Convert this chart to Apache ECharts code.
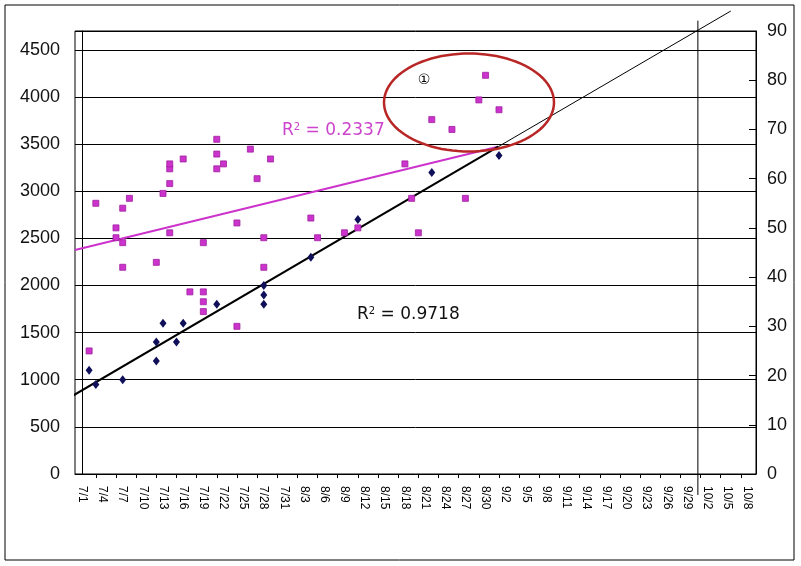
<!DOCTYPE html>
<html>
<head>
<meta charset="utf-8">
<script src="https://cdn.jsdelivr.net/npm/echarts@6/dist/echarts.min.js"></script>
<style>
html,body{margin:0;padding:0;background:#fff;}
#chart{width:801px;height:566px;}
</style>
</head>
<body>
<div id="chart"></div>
<script>
// ---- data ----
const xTickLabels = ['7/1','7/4','7/7','7/10','7/13','7/16','7/19','7/22','7/25','7/28','7/31',
  '8/3','8/6','8/9','8/12','8/15','8/18','8/21','8/24','8/27','8/30',
  '9/2','9/5','9/8','9/11','9/14','9/17','9/20','9/23','9/26','9/29',
  '10/2','10/5','10/8'];

const navyDates  = ['7/2','7/3','7/7','7/12','7/12','7/13','7/15','7/16','7/21','7/28','7/28','7/28','8/4','8/11','8/22','9/1'];
const navyValues = [1100,950,1000,1200,1400,1600,1400,1600,1800,2000,1900,1800,2300,2700,3200,3380];

const pinkDates  = ['7/2','7/3','7/6','7/6','7/7','7/7','7/7','7/8','7/12','7/13','7/14','7/14','7/14','7/14','7/16','7/17',
  '7/19','7/19','7/19','7/19','7/21','7/21','7/21','7/22','7/24','7/24','7/26','7/27','7/28','7/28','7/29',
  '8/4','8/5','8/9','8/11','8/18','8/19','8/20','8/22','8/25','8/27','8/29','8/30','9/1'];
const pinkValues = [25,55,50,48,54,47,42,56,43,57,59,62,63,49,64,37,
  37,35,33,47,68,65,62,63,51,30,66,60,48,42,64,
  52,48,49,50,63,56,49,72,70,56,76,81,74];

// trend / guide lines: x in days after 7/1
const blackTrendX = [-1.85, 61.9];  const blackTrendY = [813, 3473];
const blackExtX   = [61.9, 96.5];   const blackExtY   = [3473, 4912];
const pinkTrendX  = [-1.1, 61.85];  const pinkTrendY  = [45.5, 66.5];
const guideX      = [91.6, 91.6];   const guideY      = [-223, 4810];

const leftTicks  = [0,500,1000,1500,2000,2500,3000,3500,4000,4500];
const rightTicks = [0,10,20,30,40,50,60,70,80,90];

// ---- helpers ----
const BASE = Date.UTC(2001,6,1);
function dayIndex(s){const p=s.split('/').map(Number);return Math.round((Date.UTC(2001,p[0]-1,p[1])-BASE)/86400000);}
function dayLabel(i){const d=new Date(BASE+Math.round(i)*86400000);return (d.getUTCMonth()+1)+'/'+d.getUTCDate();}
function pairs(xs,ys){return xs.map((x,i)=>[x,ys[i]]);}

const labelIdx = xTickLabels.map(dayIndex);
const tickIdx = labelIdx.map(i=>i+2);

const FONT = 'Liberation Sans';
const chart = echarts.init(document.getElementById('chart'), null, {renderer:'canvas'});

// ellipse annotation polygon
const ell = [];
for(let k=0;k<96;k++){const t=k/96*2*Math.PI;ell.push([469+85*Math.cos(t),102.5+49*Math.sin(t)]);}

chart.setOption({
  animation:false,
  backgroundColor:'#fff',
  grid:{left:75,right:45,top:31,bottom:92,show:true,borderColor:'#000',borderWidth:1,backgroundColor:'transparent'},
  xAxis:{
    type:'value', min:-1.1, max:100.25,
    splitLine:{show:false},
    axisLine:{show:true,lineStyle:{color:'#000',width:1}},
    axisTick:{show:true,customValues:tickIdx,length:4,lineStyle:{color:'#000'}},
    axisLabel:{customValues:labelIdx,rotate:-90,margin:12,fontSize:12,fontFamily:FONT,color:'#000',
      formatter:v=>dayLabel(v)}
  },
  yAxis:[
    {type:'value',min:0,max:4700,interval:500,position:'left',
     axisLine:{show:true,lineStyle:{color:'#000'}},
     axisTick:{show:false},
     splitLine:{show:true,lineStyle:{color:'#000',width:1}},
     axisLabel:{customValues:leftTicks,fontSize:18,fontFamily:FONT,color:'#111',margin:15,
       formatter:v=>String(v)}},
    {type:'value',min:0,max:90,interval:10,position:'right',
     axisLine:{show:true,lineStyle:{color:'#000'}},
     axisTick:{show:true,inside:true,length:7,lineStyle:{color:'#000'}},
     splitLine:{show:false},
     axisLabel:{customValues:rightTicks,fontSize:18,fontFamily:FONT,color:'#111',margin:11,
       formatter:v=>String(v)}}
  ],
  series:[
    {type:'line',yAxisIndex:0,data:pairs(guideX,guideY),showSymbol:false,clip:false,
     lineStyle:{color:'#000',width:1},z:3,silent:true},
    {type:'line',yAxisIndex:0,data:pairs(blackExtX,blackExtY),showSymbol:false,clip:false,
     lineStyle:{color:'#000',width:1},z:3,silent:true},
    {type:'line',yAxisIndex:1,data:pairs(pinkTrendX,pinkTrendY),showSymbol:false,clip:false,
     lineStyle:{color:'#cc33cc',width:2},z:3,silent:true},
    {type:'line',yAxisIndex:0,data:pairs(blackTrendX,blackTrendY),showSymbol:false,clip:false,
     lineStyle:{color:'#000',width:2},z:4,silent:true},
    {type:'scatter',yAxisIndex:1,data:pairs(pinkDates.map(dayIndex),pinkValues),
     symbol:'rect',symbolSize:6,itemStyle:{color:'#cc33cc',borderColor:'#a020a0',borderWidth:0.8,opacity:1},z:5},
    {type:'scatter',yAxisIndex:0,data:pairs(navyDates.map(dayIndex),navyValues),
     symbol:'diamond',symbolSize:[7,9],itemStyle:{color:'#10105a',opacity:1},z:6}
  ],
  graphic:[
    {type:'rect',shape:{x:5,y:5,width:789,height:555},style:{fill:null,stroke:'#000',lineWidth:1},silent:true,z:100},
    {type:'polygon',shape:{points:ell},style:{fill:null,stroke:'#b82626',lineWidth:2.5},silent:true,z:100},
    {type:'text',x:424,y:80,style:{text:'①',fontSize:14,fontFamily:'DejaVu Sans',fill:'#000',align:'center',verticalAlign:'middle'},z:100},
    {type:'text',x:282,y:130.5,style:{
      text:'{a|R}{s|2}{a| = 0.2337}',verticalAlign:'middle',
      rich:{a:{fontSize:17,fontFamily:'DejaVu Sans',fill:'#cc44cc',verticalAlign:'bottom'},
            s:{fontSize:10,fontFamily:'DejaVu Sans',fill:'#cc44cc',verticalAlign:'top'}}},z:100},
    {type:'text',x:357,y:315,style:{
      text:'{a|R}{s|2}{a| = 0.9718}',verticalAlign:'middle',
      rich:{a:{fontSize:17,fontFamily:'DejaVu Sans',fill:'#111',verticalAlign:'bottom'},
            s:{fontSize:10,fontFamily:'DejaVu Sans',fill:'#111',verticalAlign:'top'}}},z:100}
  ]
});
</script>
</body>
</html>
